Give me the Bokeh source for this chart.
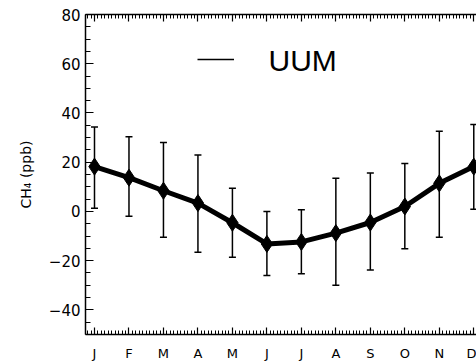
from bokeh.plotting import figure
from bokeh.models import (Range1d, LinearAxis, FixedTicker, Whisker, TeeHead,
                          ColumnDataSource, Legend, LegendItem, Label)
from bokeh.embed import file_html
from bokeh.resources import INLINE

# ---- data ----
month_labels = ["J", "F", "M", "A", "M", "J", "J", "A", "S", "O", "N", "D"]
month_index = [1, 2, 3, 4, 5, 6, 7, 8, 9, 10, 11, 12]
ch4_mean = [18.2, 13.7, 8.4, 3.4, -4.6, -13.2, -12.4, -8.8, -4.5, 2.0, 11.4, 18.2]
ch4_upper = [34.3, 30.3, 28.0, 22.9, 9.4, 0.0, 0.7, 13.5, 15.6, 19.5, 32.6, 35.3]
ch4_lower = [1.3, -2.0, -10.5, -16.6, -18.6, -26.0, -25.3, -30.0, -23.8, -15.2, -10.5, 0.9]
y_ticks = [-40, -20, 0, 20, 40, 60, 80]
series_name = "UUM"

src = ColumnDataSource(dict(x=month_index, mean=ch4_mean, upper=ch4_upper, lower=ch4_lower))

FONT = "DejaVu Sans"

p = figure(frame_width=391, frame_height=320, output_backend="svg", toolbar_location=None,
           x_range=Range1d(0.739, 12.079), y_range=Range1d(-50, 80),
           min_border_left=85, min_border_right=0, min_border_top=14, min_border_bottom=27)
p.xgrid.visible = False
p.ygrid.visible = False
p.outline_line_color = None
p.background_fill_color = "white"
p.border_fill_color = "white"

x_minor = [round(0.8 + 0.1 * k, 2) for k in range(113)]
y_minor = list(range(-50, 81, 5))

def style_x(ax, labels=True):
    ax.ticker = FixedTicker(ticks=month_index, minor_ticks=x_minor)
    ax.major_tick_in = 7
    ax.major_tick_out = 0
    ax.minor_tick_in = 4
    ax.minor_tick_out = 0
    ax.axis_line_width = 1.5
    ax.axis_line_color = "black"
    ax.major_tick_line_color = "black"
    ax.minor_tick_line_color = "black"
    ax.major_tick_line_width = 1.2
    ax.minor_tick_line_width = 1.0
    if labels:
        ax.major_label_overrides = {m: l for m, l in zip(month_index, month_labels)}
        ax.major_label_text_font = FONT
        ax.major_label_text_font_size = "13px"
        ax.major_label_text_color = "black"
        ax.major_label_standoff = 11
    else:
        ax.major_label_overrides = {m: "" for m in month_index}
        ax.major_label_text_font_size = "1px"
        ax.major_label_standoff = 0

style_x(p.xaxis[0], True)
top = LinearAxis()
style_x(top, False)
p.add_layout(top, "above")

ya = p.yaxis[0]
ya.ticker = FixedTicker(ticks=y_ticks, minor_ticks=y_minor)
ya.major_label_overrides = {v: (str(v).replace("-", "\u2212")) for v in y_ticks}
ya.major_tick_in = 8
ya.major_tick_out = 0
ya.minor_tick_in = 5
ya.minor_tick_out = 0
ya.axis_line_width = 1.5
ya.axis_line_color = "black"
ya.major_tick_line_color = "black"
ya.minor_tick_line_color = "black"
ya.major_tick_line_width = 1.2
ya.major_label_text_font = FONT
ya.major_label_text_font_size = "15px"
ya.major_label_text_color = "black"
ya.major_label_standoff = 5
ya.axis_label = "CH\u2084 (ppb)"
ya.axis_label_text_font = FONT
ya.axis_label_text_font_size = "14px"
ya.axis_label_text_font_style = "normal"
ya.axis_label_text_color = "black"
ya.axis_label_standoff = 12

p.add_layout(Whisker(base="x", upper="upper", lower="lower", source=src,
                     line_width=1.5, line_color="black",
                     upper_head=TeeHead(size=7, line_width=1.5, line_color="black"),
                     lower_head=TeeHead(size=7, line_width=1.5, line_color="black")))

p.line("x", "mean", source=src, line_width=5, line_color="black")
p.scatter("x", "mean", source=src, marker="diamond", size=17, color="black")

# legend: line sample via Legend, series name as a Label next to it
dummy = p.line(x=[float("nan")], y=[float("nan")], line_width=1.5, line_color="black")
leg = Legend(items=[LegendItem(label=" ", renderers=[dummy])],
             location=(112, 265), glyph_width=37, glyph_height=20, label_standoff=0,
             padding=0, margin=0, border_line_color=None, background_fill_alpha=0,
             label_text_font_size="8px", label_height=8, label_width=1)
p.add_layout(leg)
p.add_layout(Label(x=183, y=274, x_units="screen", y_units="screen", text=series_name,
                   text_font="Liberation Sans", text_font_size="30px",
                   text_baseline="alphabetic", text_align="left", text_color="black"))

open("out.html", "w").write(file_html(p, INLINE))
